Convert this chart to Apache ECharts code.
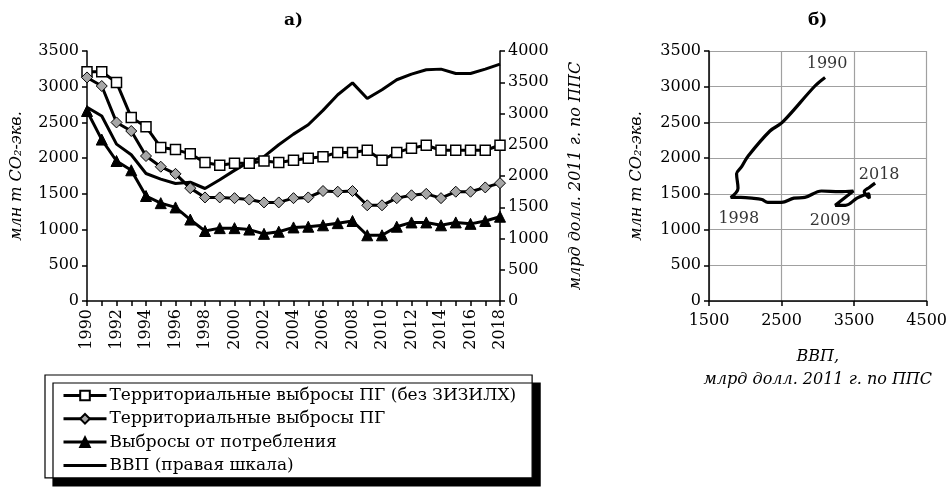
<!DOCTYPE html>
<html>
<head>
<meta charset="utf-8">
<script src="https://cdn.jsdelivr.net/npm/echarts@6/dist/echarts.min.js"></script>
<style>
html,body{margin:0;padding:0;background:#fff;}
#chart{width:950px;height:489px;}
</style>
</head>
<body>
<div id="chart"></div>
<script>
// ---- data ----
const years = ['1990','1991','1992','1993','1994','1995','1996','1997','1998','1999','2000','2001','2002','2003','2004','2005','2006','2007','2008','2009','2010','2011','2012','2013','2014','2015','2016','2017','2018'];
const terrNoLulucf = [3210,3210,3060,2570,2440,2150,2120,2060,1940,1900,1930,1930,1960,1940,1970,2000,2020,2080,2080,2110,1970,2080,2140,2180,2110,2110,2110,2110,2180];
const terrTotal = [3130,3010,2500,2380,2030,1880,1780,1580,1450,1450,1440,1420,1380,1380,1440,1450,1540,1530,1540,1340,1340,1440,1480,1500,1440,1530,1530,1590,1650];
const consumption = [2660,2260,1960,1830,1470,1370,1310,1140,980,1020,1020,1000,940,970,1030,1040,1060,1090,1120,920,920,1040,1100,1100,1060,1100,1080,1120,1180];
const gdp = [3100,2960,2510,2340,2040,1950,1880,1900,1800,1940,2090,2230,2310,2500,2670,2820,3050,3300,3490,3240,3380,3540,3630,3700,3710,3640,3640,3710,3790];
const seriesNames = ['Территориальные выбросы ПГ (без ЗИЗИЛХ)','Территориальные выбросы ПГ','Выбросы от потребления','ВВП (правая шкала)'];
const labeledYears = ['1990','1998','2009','2018'];
const leftTicks = {min:0, max:3500, interval:500};
const rightTicks = {min:0, max:4000, interval:500};
const scatterX = {min:1500, max:4500, interval:1000};

// ---- chart ----
const FONT = 'DejaVu Serif';
const FS = 16;
const chart = echarts.init(document.getElementById('chart'), null, {renderer:'canvas'});
const labelOffsets = {'1990':[2,-14],'1998':[8,21],'2009':[-5,16],'2018':[4,-8]};
const pathData = years.map((y,i)=>[gdp[i], terrTotal[i]]);
const labelData = labeledYears.map(y=>{
  const i = years.indexOf(y);
  return {value:[gdp[i], terrTotal[i]], label:{show:true, formatter:y, offset:labelOffsets[y]}};
});
const plain = v => String(v);
const mkLine = () => ({show:true, lineStyle:{color:'#000', width:1.5}});
const mkTick = () => ({show:true, length:5, lineStyle:{color:'#000', width:1.5}});
const mkLabel = (extra) => Object.assign({color:'#000', fontFamily:FONT, fontSize:FS, formatter:plain}, extra || {});
const nameStyle = (extra) => Object.assign({color:'#000', fontFamily:FONT, fontSize:FS, fontStyle:'italic'}, extra || {});
const mkGrid = () => ({show:true, lineStyle:{color:'#a0a0a0', width:1.2, type:'solid'}});

const option = {
  animation:false,
  backgroundColor:'#fff',
  textStyle:{fontFamily:FONT},
  graphic:[
    {type:'text', left:284, top:12, style:{text:'а)', font:'bold 17px "DejaVu Serif"', fill:'#000'}},
    {type:'text', left:808, top:12, style:{text:'б)', font:'bold 17px "DejaVu Serif"', fill:'#000'}}
  ],
  legend:{
    data:[{name:seriesNames[0]},{name:seriesNames[1]},{name:seriesNames[2]},{name:seriesNames[3], itemStyle:{opacity:0}}],
    orient:'vertical', left:45, top:375,
    itemWidth:43, itemHeight:12, itemGap:6.3,
    padding:[12,16,4,17],
    lineStyle:{width:3},
    backgroundColor:'#fff', borderColor:'#000', borderWidth:1.2,
    shadowColor:'#000', shadowBlur:0, shadowOffsetX:8, shadowOffsetY:8,
    textStyle:{color:'#000', fontFamily:FONT, fontSize:17, lineHeight:17, padding:[0,0,0,-2]}
  },
  grid:[
    {left:87, top:51, width:413, height:250},
    {left:709, top:51, width:220, height:250}
  ],
  xAxis:[
    {type:'category', gridIndex:0, data:years, boundaryGap:false,
     axisLine:mkLine(), axisTick:Object.assign(mkTick(), {interval:0}),
     axisLabel:mkLabel({rotate:90, interval:1, margin:8}), splitLine:{show:false}},
    {type:'value', gridIndex:1, min:scatterX.min, max:scatterX.max, interval:scatterX.interval,
     axisLine:mkLine(), axisTick:mkTick(), axisLabel:mkLabel({margin:12}), splitLine:mkGrid(),
     name:'ВВП,\nмлрд долл. 2011 г. по ППС', nameLocation:'middle', nameGap:44,
     nameTextStyle:nameStyle({lineHeight:23})}
  ],
  yAxis:[
    {type:'value', gridIndex:0, min:leftTicks.min, max:leftTicks.max, interval:leftTicks.interval,
     axisLine:mkLine(), axisTick:mkTick(), axisLabel:mkLabel(), splitLine:{show:false},
     name:'млн т CO₂-экв.', nameLocation:'middle', nameGap:62, nameRotate:90, nameTextStyle:nameStyle()},
    {type:'value', gridIndex:0, position:'right', min:rightTicks.min, max:rightTicks.max, interval:rightTicks.interval,
     axisLine:mkLine(), axisTick:mkTick(), axisLabel:mkLabel(), splitLine:{show:false},
     name:'млрд долл. 2011 г. по ППС', nameLocation:'middle', nameGap:68, nameRotate:90, nameTextStyle:nameStyle()},
    {type:'value', gridIndex:1, min:leftTicks.min, max:leftTicks.max, interval:leftTicks.interval,
     axisLine:mkLine(), axisTick:mkTick(), axisLabel:mkLabel(), splitLine:mkGrid(),
     name:'млн т CO₂-экв.', nameLocation:'middle', nameGap:64, nameRotate:90, nameTextStyle:nameStyle()}
  ],
  series:[
    {name:seriesNames[0], type:'line', xAxisIndex:0, yAxisIndex:0, data:terrNoLulucf,
     symbol:'rect', symbolSize:10, showAllSymbol:true,
     lineStyle:{color:'#000', width:3}, itemStyle:{color:'#fff', borderColor:'#000', borderWidth:1.5}, z:4},
    {name:seriesNames[1], type:'line', xAxisIndex:0, yAxisIndex:0, data:terrTotal,
     symbol:'diamond', symbolSize:11, showAllSymbol:true,
     lineStyle:{color:'#000', width:3}, itemStyle:{color:'#a6a6a6', borderColor:'#000', borderWidth:1}, z:4},
    {name:seriesNames[2], type:'line', xAxisIndex:0, yAxisIndex:0, data:consumption,
     symbol:'triangle', symbolSize:11, showAllSymbol:true,
     lineStyle:{color:'#000', width:3}, itemStyle:{color:'#000', borderColor:'#000', borderWidth:1}, z:4},
    {name:seriesNames[3], type:'line', xAxisIndex:0, yAxisIndex:1, data:gdp,
     symbol:'none', lineStyle:{color:'#000', width:3}, itemStyle:{color:'#000'}, z:3},
    {name:'scatterPath', type:'line', xAxisIndex:1, yAxisIndex:2, data:pathData,
     symbol:'none', smooth:0.35, lineStyle:{color:'#000', width:3.2}, z:3},
    {name:'scatterLabels', type:'scatter', xAxisIndex:1, yAxisIndex:2, data:labelData,
     symbolSize:1, itemStyle:{color:'rgba(0,0,0,0)'},
     label:{show:true, position:'inside', color:'#000', fontFamily:FONT, fontSize:FS, align:'center', verticalAlign:'middle'}, z:5}
  ]
};
chart.setOption(option);
</script>
</body>
</html>
